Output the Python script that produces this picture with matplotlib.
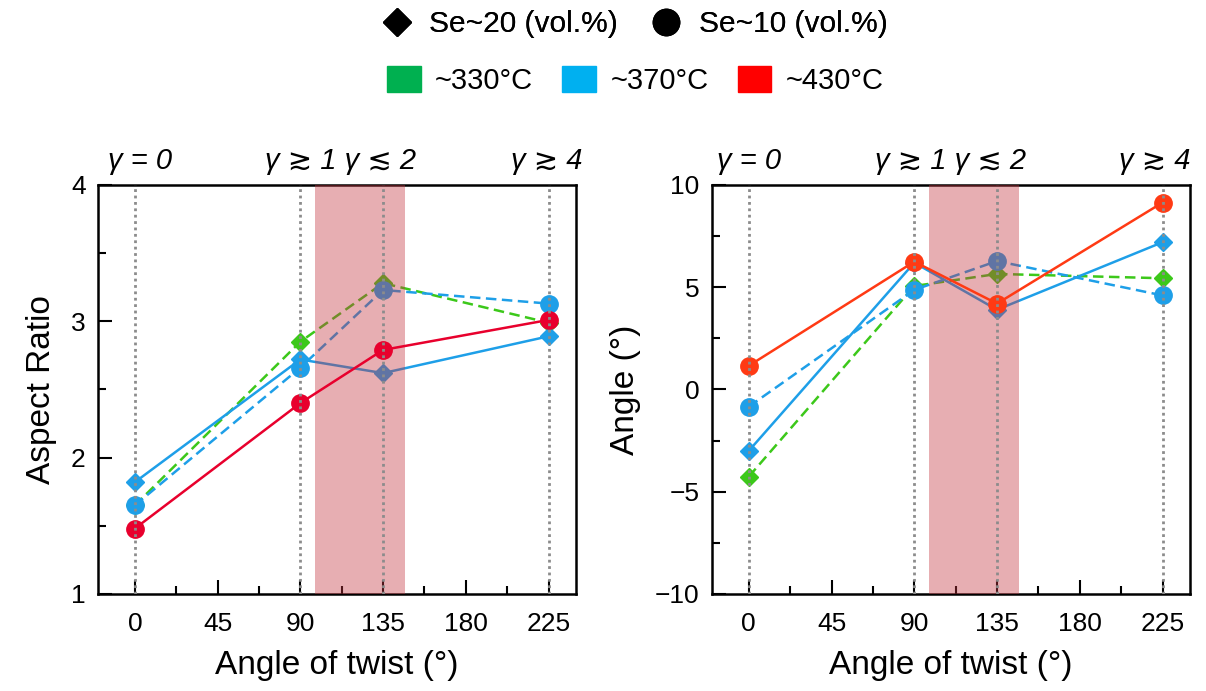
import matplotlib
matplotlib.use('Agg')
import matplotlib.pyplot as plt
from matplotlib.lines import Line2D
from matplotlib.patches import Patch
from matplotlib.ticker import MultipleLocator

plt.rcParams['font.family'] = ['Liberation Sans', 'DejaVu Sans']

# twist angles where samples were measured
twist = [0, 90, 135, 225]
xticks = [0, 45, 90, 135, 180, 225]

# aspect ratio (left panel)
ar_330_se20 = [1.65, 2.85, 3.28, 2.99]
ar_370_se20 = [1.82, 2.72, 2.62, 2.89]
ar_370_se10 = [1.65, 2.66, 3.23, 3.13]
ar_430_se10 = [1.48, 2.40, 2.79, 3.01]

# angle (right panel)
ang_330_se20 = [-4.26, 5.06, 5.65, 5.44]
ang_370_se20 = [-3.0, 6.2, 3.9, 7.2]
ang_370_se10 = [-0.84, 4.87, 6.28, 4.6]
ang_430_se10 = [1.16, 6.25, 4.2, 9.14]

gamma_labels = ['γ = 0', 'γ ≳ 1 γ ≲ 2', 'γ ≳ 4']

green = '#3cc81a'
blue = '#1e9fe8'
red_l = '#e8002d'
red_r = '#ff3a14'
band_c = '#c43540'

fig = plt.figure(figsize=(12.06, 6.91), dpi=100)
ax1 = fig.add_axes([0.0813, 0.1404, 0.3964, 0.5919])
ax2 = fig.add_axes([0.5904, 0.1404, 0.3964, 0.5919])

dash = (0, (4.2, 2.2))


def draw(ax, g20, b20, b10, r10, red, ylim, major, minor, ylabel, glab_x):
    ax.plot(twist, g20, ls=dash, lw=1.8, color=green, marker='D', ms=9.5, zorder=3)
    ax.plot(twist, b10, ls=dash, lw=1.8, color=blue, marker='o', ms=12.5, zorder=3)
    ax.plot(twist, b20, ls='-', lw=1.8, color=blue, marker='D', ms=9.5, zorder=3)
    ax.plot(twist, r10, ls='-', lw=1.8, color=red, marker='o', ms=12.5, zorder=5)
    ax.axvspan(98, 147, color=band_c, alpha=0.4, lw=0, zorder=4)
    for x in twist:
        ax.axvline(x, color='#8c8c8c', ls=(0, (1, 1.3)), lw=2, zorder=6)
    ax.set_xlim(-20, 240)
    ax.set_ylim(*ylim)
    ax.set_xticks(xticks)
    ax.xaxis.set_minor_locator(MultipleLocator(22.5))
    ax.yaxis.set_major_locator(MultipleLocator(major))
    ax.yaxis.set_minor_locator(MultipleLocator(minor))
    ax.tick_params(which='both', direction='in', width=1.5, labelsize=19,
                   top=False, right=False)
    ax.tick_params(which='major', length=10)
    ax.tick_params(axis='x', which='major', pad=13)
    ax.tick_params(axis='y', which='major', pad=9)
    ax.tick_params(which='minor', length=6)
    for s in ax.spines.values():
        s.set_linewidth(1.8)
    ax.set_xlabel('Angle of twist (°)', fontsize=24, labelpad=10)
    ax.set_ylabel(ylabel, fontsize=24, labelpad=10)
    tr = ax.get_xaxis_transform()
    for xl, t in zip(glab_x, gamma_labels):
        ax.text(xl, 1.025, t, transform=tr, ha='center', va='bottom',
                fontsize=21, style='italic')


draw(ax1, ar_330_se20, ar_370_se20, ar_370_se10, ar_430_se10, red_l,
     (1, 4), 1, 0.5, 'Aspect Ratio', [3, 112, 224])
draw(ax2, ang_330_se20, ang_370_se20, ang_370_se10, ang_430_se10, red_r,
     (-10, 10), 5, 2.5, 'Angle (°)', [0, 110, 221])

h_se = [Line2D([], [], ls='none', marker='D', ms=14, color='black'),
        Line2D([], [], ls='none', marker='o', ms=19, color='black')]
leg1 = fig.legend(h_se, ['Se~20 (vol.%)', 'Se~10 (vol.%)'], ncol=2,
                  loc='center', bbox_to_anchor=(0.525, 0.965), frameon=False,
                  fontsize=21.5, handlelength=1.2, handletextpad=0.5,
                  columnspacing=1.0)
h_t = [Patch(color='#00b050'), Patch(color='#00b0f0'), Patch(color='#ff0000')]
fig.legend(h_t, ['~330°C', '~370°C', '~430°C'], ncol=3,
           loc='center', bbox_to_anchor=(0.527, 0.883), frameon=False,
           fontsize=21, handlelength=1.15, handleheight=1.0,
           handletextpad=0.5, columnspacing=1.0)
fig.add_artist(leg1)

fig.savefig('out.png', dpi=100)
